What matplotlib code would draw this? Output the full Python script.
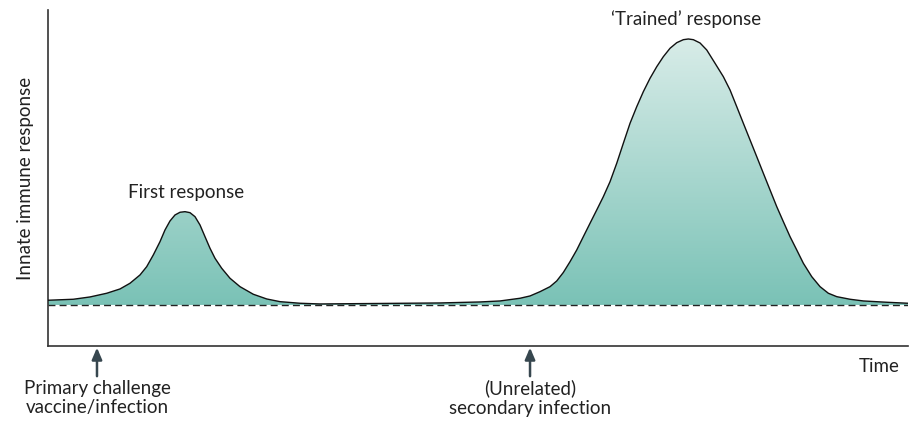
import numpy as np
import matplotlib
matplotlib.use('Agg')
import matplotlib.pyplot as plt
from matplotlib.colors import LinearSegmentedColormap
from matplotlib.patches import Polygon

plt.rcParams['font.family'] = ['Lato', 'DejaVu Sans']

# curve (arbitrary units: time 0-860, response 0-336)
time = [0, 25.3, 42, 58.7, 72, 82, 92, 98.7, 105.3, 112, 117, 122, 127, 132, 137, 142, 147,
        152, 157, 162, 167, 173.7, 182, 192, 205.3, 218.7, 232, 252, 272, 332, 392, 432, 452,
        472, 482, 492, 502, 508.7, 515.3, 522, 528.7, 535.3, 542, 548.7, 555.3, 562, 568.7,
        575.3, 582, 588.7, 595.3, 602, 608.7, 615.3, 622, 628.7, 635.3, 640.3, 645.3, 652,
        658.7, 667, 675.3, 682, 688.7, 695.3, 702, 708.7, 715.3, 722, 728.7, 735.3, 742,
        748.7, 755.3, 763.7, 772, 780.3, 788.7, 802, 815.3, 838.7, 860]
response = [45.7, 46.7, 49, 52.7, 57, 62.7, 71, 79.3, 91, 104.3, 116, 125, 131, 133.7, 134.3,
            133.3, 129.3, 121, 109.3, 97.7, 87.7, 77.7, 67.7, 59.3, 51.7, 47, 44.3, 42.7, 42,
            42.5, 43, 44, 45, 47.7, 50, 54.3, 59.3, 65, 73.5, 84.3, 96, 109.3, 122.7, 136,
            149.3, 164.3, 182.7, 202.7, 222.7, 239.3, 254.3, 267.7, 279.3, 289.3, 297.7, 303.3,
            306.3, 307, 306.3, 303, 296, 282.7, 269.3, 256, 239.3, 222.7, 206, 189.3, 172.7,
            156, 139.3, 124.3, 109.3, 96, 82.7, 69.3, 59.3, 52.7, 49.3, 46.7, 45, 43.7, 42.7]
baseline = 41

events = [49, 482]
event_labels = ['Primary challenge\nvaccine/infection', '(Unrelated)\nsecondary infection']
peak_labels = [(138, 'First response'), (638, '\u2018Trained\u2019 response')]

fig = plt.figure(figsize=(9.14, 4.25), dpi=100)
ax = fig.add_axes([0.0525, 0.186, 0.941, 0.7905])
ax.set_xlim(0, 860)
ax.set_ylim(0, 336)

# gradient fill under the curve
cmap = LinearSegmentedColormap.from_list('teal', ['#7ac2b6', '#d8ece8'])
grad = np.linspace(0, 1, 256).reshape(-1, 1)
im = ax.imshow(grad, extent=[0, 860, baseline, max(response)], origin='lower',
               aspect='auto', cmap=cmap, zorder=1)
verts = list(zip(time, response)) + [(860, baseline), (0, baseline)]
patch = Polygon(verts, closed=True, facecolor='none', edgecolor='none')
ax.add_patch(patch)
im.set_clip_path(patch)

ax.plot(time, response, color='#111111', lw=1.0, zorder=3, solid_joinstyle='round')
ax.axhline(baseline, color='#222222', lw=1.0, ls=(0, (5, 3)), zorder=2)

for s in ['top', 'right']:
    ax.spines[s].set_visible(False)
for s in ['left', 'bottom']:
    ax.spines[s].set_color('#333333')
    ax.spines[s].set_linewidth(1.2)
ax.set_xticks([])
ax.set_yticks([])
ax.set_ylabel('Innate immune response', fontsize=13.5, color='#222222', labelpad=10)

tr = ax.get_xaxis_transform()
for x, lab in zip(events, event_labels):
    ax.annotate('', xy=(x, -0.005), xytext=(x, -0.09), xycoords=tr, textcoords=tr,
                arrowprops=dict(arrowstyle='-|>,head_length=0.7,head_width=0.3',
                                color='#37474f', lw=1.8, shrinkA=0, shrinkB=0))
    ax.text(x, -0.1, lab, transform=tr, ha='center', va='top', fontsize=13.5,
            color='#222222', linespacing=1.2)

ax.text(852, -0.062, 'Time', transform=tr, ha='right', va='center', fontsize=13.5, color='#222222')

for x, lab in peak_labels:
    i = int(np.argmin(np.abs(np.array(time) - x)))
    ax.text(x, response[i] + 11, lab, ha='center', va='bottom', fontsize=13.5, color='#222222')

fig.savefig('out.png', dpi=100)
